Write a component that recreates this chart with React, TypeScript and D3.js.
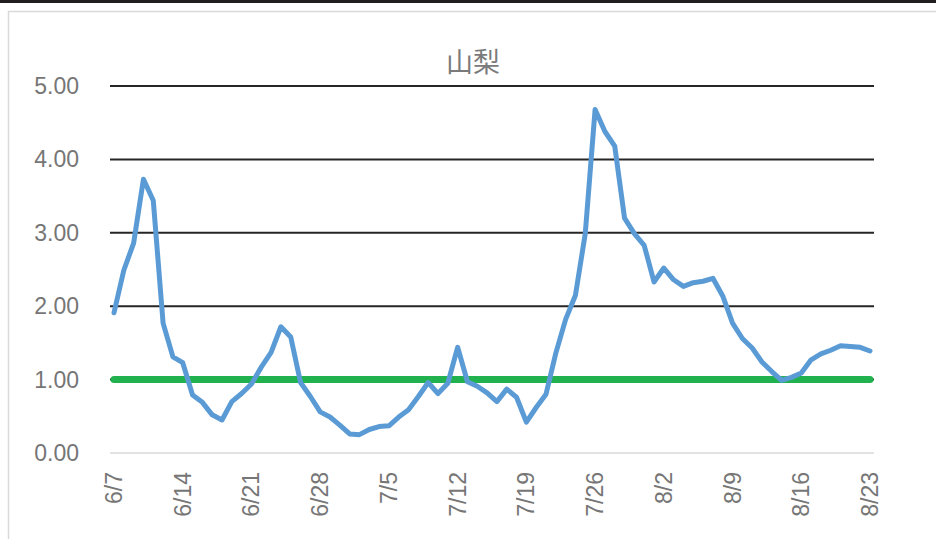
import React from "react";
import * as d3 from "d3";

const title = "山梨";
const startDate = "2020-06-07";
const values: number[] = [
  1.91, 2.49, 2.86, 3.73, 3.44, 1.77, 1.31, 1.23, 0.79, 0.69,
  0.52, 0.45, 0.70, 0.81, 0.94, 1.17, 1.37, 1.72, 1.58, 0.96,
  0.77, 0.56, 0.49, 0.38, 0.26, 0.25, 0.32, 0.36, 0.37, 0.49,
  0.59, 0.77, 0.96, 0.81, 0.95, 1.44, 0.97, 0.91, 0.82, 0.70,
  0.87, 0.76, 0.42, 0.62, 0.80, 1.36, 1.82, 2.15, 2.99, 4.68,
  4.38, 4.18, 3.20, 2.99, 2.83, 2.33, 2.52, 2.36, 2.27, 2.32,
  2.34, 2.38, 2.14, 1.77, 1.56, 1.43, 1.24, 1.11, 0.99, 1.03,
  1.09, 1.27, 1.35, 1.40, 1.46, 1.45, 1.44, 1.39,
];
const threshold = 1.0;
const yTicks = [0, 1, 2, 3, 4, 5];
const xTickLabels = ["6/7", "6/14", "6/21", "6/28", "7/5", "7/12", "7/19", "7/26", "8/2", "8/9", "8/16", "8/23"];

const W = 936;
const H = 539;

export default function App() {
  const parse = d3.timeParse("%Y-%m-%d");
  const start = parse(startDate) as Date;
  const dates = values.map((_, i) => d3.timeDay.offset(start, i));
  const x = d3.scaleTime().domain([dates[0], dates[dates.length - 1]]).range([114, 870]);
  const y = d3.scaleLinear().domain([0, 5]).range([453, 86]);
  const line = d3
    .line<number>()
    .x((_, i) => x(dates[i]))
    .y((d) => y(d));
  const tickDates = xTickLabels.map((_, k) => dates[k * 7]);
  const fmt = d3.format(".2f");
  const font = "'Liberation Sans', Arial, sans-serif";
  const gx0 = 110;
  const gx1 = 874;
  const labelColor = "#767676";

  return (
    <svg width={W} height={H} style={{ position: "absolute", left: 0, top: 0, background: "#fff" }}>
      <rect x={0} y={0} width={W} height={H} fill="#fff" />
      <rect x={0} y={0} width={W} height={3} fill="#231f20" />
      <rect x={8.5} y={11.5} width={W + 20} height={H + 20} fill="none" stroke="#d9d9d9" strokeWidth={1.5} />
      <text x={473} y={60} textAnchor="middle" dominantBaseline="central" fontFamily="'Noto Sans CJK JP', sans-serif" fontSize={27} fill="#7a7a7a">
        {title}
      </text>
      {yTicks.map((t) =>
        t === 0 ? (
          <line key={t} x1={gx0} x2={gx1} y1={y(t)} y2={y(t)} stroke="#d9d9d9" strokeWidth={1.5} />
        ) : (
          <line key={t} x1={gx0} x2={gx1} y1={y(t)} y2={y(t)} stroke="#262626" strokeWidth={2} />
        )
      )}
      {yTicks.map((t) => (
        <text key={"l" + t} x={79} y={y(t)} textAnchor="end" dominantBaseline="central" fontFamily={font} fontSize={23} fill={labelColor}>
          {fmt(t)}
        </text>
      ))}
      {tickDates.map((d, k) => (
        <text
          key={"x" + k}
          transform={`translate(${x(d)},472) rotate(-90)`}
          textAnchor="end"
          dominantBaseline="central"
          fontFamily={font}
          fontSize={23}
          fill={labelColor}
        >
          {xTickLabels[k]}
        </text>
      ))}
      <line
        x1={x(dates[0])}
        x2={x(dates[dates.length - 1])}
        y1={y(threshold)}
        y2={y(threshold)}
        stroke="#21b24f"
        strokeWidth={7}
        strokeLinecap="round"
      />
      <path d={line(values) as string} fill="none" stroke="#5b9bd5" strokeWidth={5} strokeLinejoin="round" strokeLinecap="round" />
    </svg>
  );
}
